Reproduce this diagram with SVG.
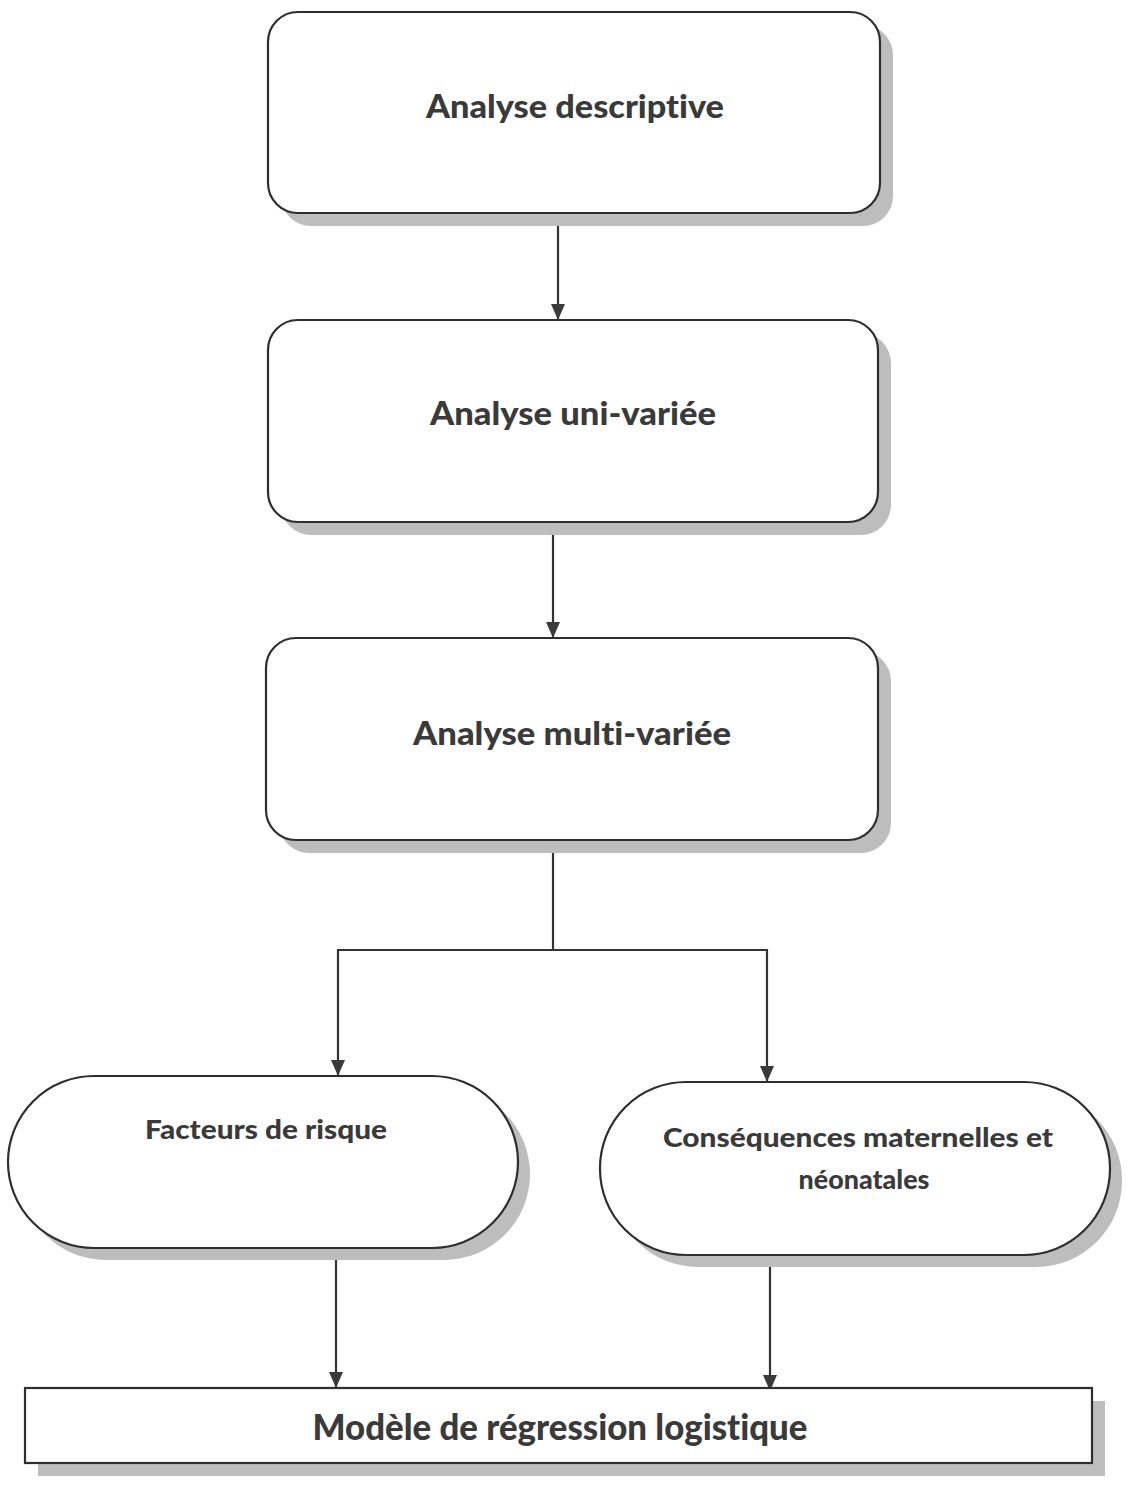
<svg xmlns="http://www.w3.org/2000/svg" width="1128" height="1499" viewBox="0 0 1128 1499">
<defs>
<style>
.box{fill:#fff;stroke:#2e2e2e;stroke-width:2.2}
.sh{fill:#bdbdbd}
.t{font-family:Lato,"Open Sans",sans-serif;font-weight:900;fill:#3a3a3a;text-anchor:middle;font-variant-ligatures:none}
.c{fill:none;stroke:#333;stroke-width:2.2}
</style>
<marker id="ah" markerWidth="16" markerHeight="14" refX="16" refY="7" orient="auto" markerUnits="userSpaceOnUse" viewBox="0 0 16 14">
<path d="M0,0 L16,7 L0,14 Z" fill="#3a3a3a"/>
</marker>
</defs>
<rect width="1128" height="1499" fill="#fff"/>
<g id="connectors">
<path class="c" d="M558,213 V320" marker-end="url(#ah)"/>
<path class="c" d="M553,522 V638" marker-end="url(#ah)"/>
<path class="c" d="M553,840 V950"/>
<path class="c" d="M553,950 H338 V1076" marker-end="url(#ah)"/>
<path class="c" d="M553,950 H767 V1082" marker-end="url(#ah)"/>
<path class="c" d="M336,1248 V1388" marker-end="url(#ah)"/>
<path class="c" d="M770,1255 V1391" marker-end="url(#ah)"/>
</g>
<g id="n1">
<rect class="sh" x="281" y="25" width="612" height="201" rx="30"/>
<rect class="box" x="268" y="12" width="612" height="201" rx="30"/>
<text class="t" x="575" y="118" font-size="32" textLength="298" lengthAdjust="spacingAndGlyphs">Analyse descriptive</text>
</g>
<g id="n2">
<rect class="sh" x="281" y="333" width="610" height="202" rx="30"/>
<rect class="box" x="268" y="320" width="610" height="202" rx="30"/>
<text class="t" x="573" y="425" font-size="32" textLength="286" lengthAdjust="spacingAndGlyphs">Analyse uni-variée</text>
</g>
<g id="n3">
<rect class="sh" x="279" y="651" width="612" height="202" rx="30"/>
<rect class="box" x="266" y="638" width="612" height="202" rx="30"/>
<text class="t" x="572" y="745" font-size="32" textLength="318" lengthAdjust="spacingAndGlyphs">Analyse multi-variée</text>
</g>
<g id="n4">
<rect class="sh" x="20" y="1088" width="510" height="172" rx="86"/>
<rect class="box" x="8" y="1076" width="510" height="172" rx="86"/>
<text class="t" x="266" y="1139" font-size="26" textLength="242" lengthAdjust="spacingAndGlyphs">Facteurs de risque</text>
</g>
<g id="n5">
<rect class="sh" x="612" y="1094" width="510" height="173" rx="86"/>
<rect class="box" x="600" y="1082" width="510" height="173" rx="86"/>
<text class="t" x="858" y="1147" font-size="26" textLength="390" lengthAdjust="spacingAndGlyphs">Conséquences maternelles et</text>
<text class="t" x="864" y="1189" font-size="26" textLength="131" lengthAdjust="spacingAndGlyphs">néonatales</text>
</g>
<g id="n6">
<rect class="sh" x="38" y="1401" width="1067" height="75"/>
<rect class="box" x="25" y="1388" width="1067" height="75"/>
<text class="t" x="560" y="1440" font-size="36" textLength="495" lengthAdjust="spacingAndGlyphs">Modèle de régression logistique</text>
</g>
</svg>
